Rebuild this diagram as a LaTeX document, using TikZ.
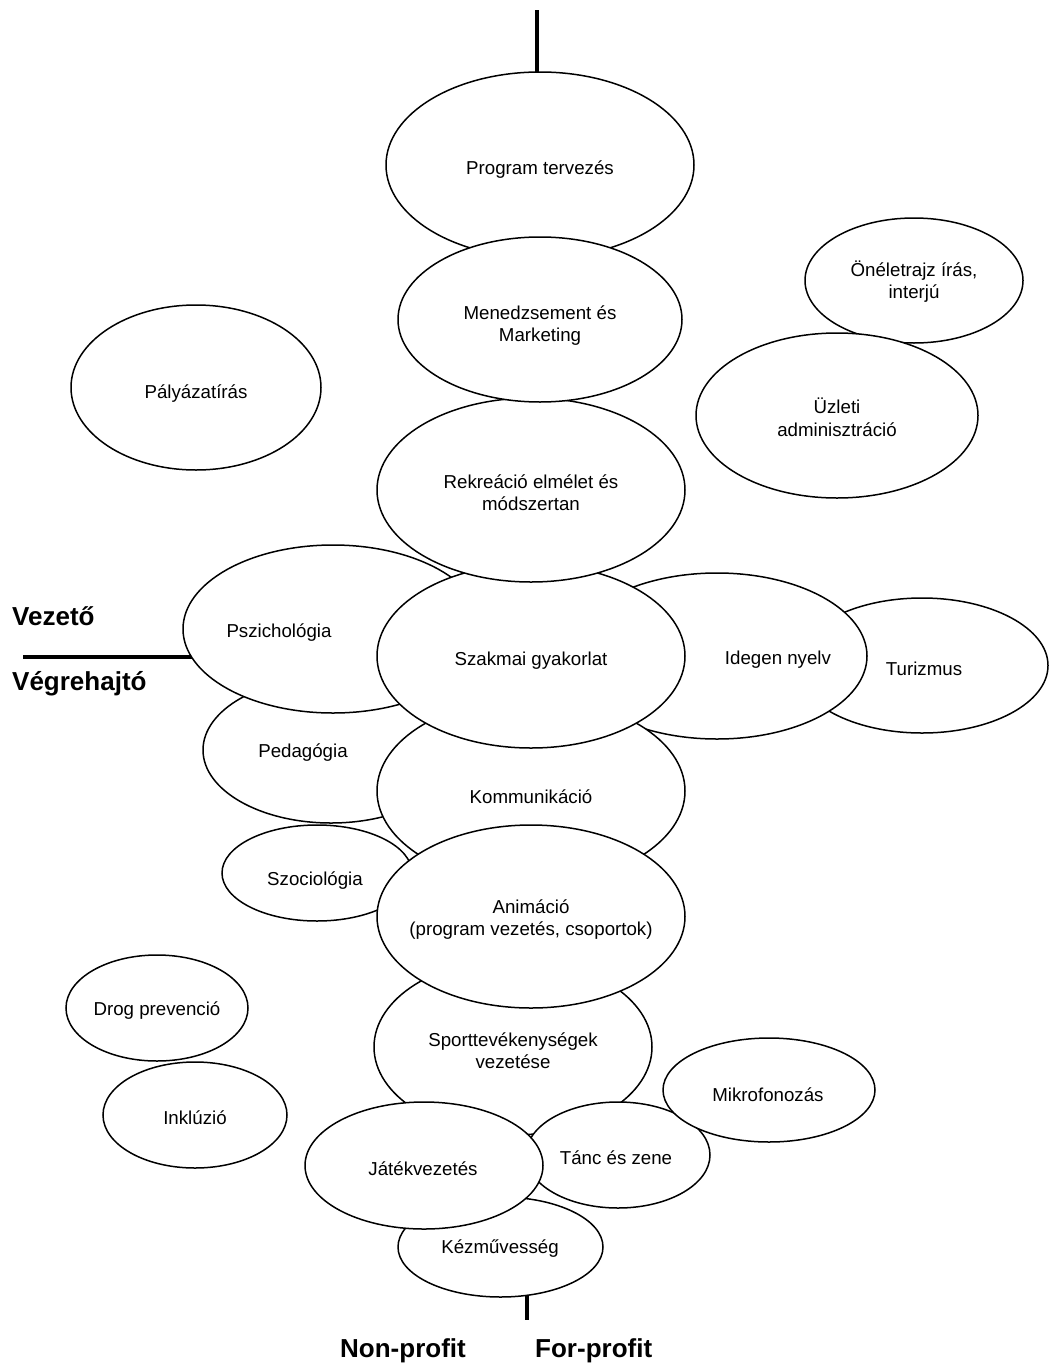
\documentclass[tikz,border=0pt]{standalone}
\usepackage{fontspec}
\setmainfont{Liberation Sans}
\usetikzlibrary{shapes.geometric}
\begin{document}
\begin{tikzpicture}[x=1pt,y=-1pt,
  bub/.style={ellipse, draw=black, fill=white, line width=1.5pt, inner sep=0pt},
  lab/.style={font=\fontsize{18.7}{22.5}\selectfont, align=center, inner sep=0pt, yshift=-1.5pt},
  axisline/.style={line width=3.5pt},
  side/.style={font=\fontsize{26}{30}\selectfont\bfseries, inner sep=0pt}]
\useasboundingbox (0,0) rectangle (1049,1365);
% axis lines (partly hidden under the ellipses)
\coordinate (topA) at (537,10);
\coordinate (topB) at (537,120);
\coordinate (leftA) at (23,657);
\coordinate (leftB) at (260,657);
\coordinate (botA) at (527,1260);
\coordinate (botB) at (527,1320);
\draw[axisline] (topA) -- (topB);
\draw[axisline] (leftA) -- (leftB);
\draw[axisline] (botA) -- (botB);
% side labels
\node[side, anchor=base west] (vez) at (12,625) {Vezető};
\node[side, anchor=base west] (veg) at (12,690) {Végrehajtó};
\node[side, anchor=base west] (np) at (340,1357) {Non-profit};
\node[side, anchor=base west] (fp) at (535,1357) {For-profit};
% free-standing bubbles
\node[bub, minimum width=250pt, minimum height=165pt] (paly) at (196,387.5) {};
\node[lab] (tpaly) at (196,392) {Pályázatírás};
\node[bub, minimum width=218pt, minimum height=125pt] (onel) at (914,280.5) {};
\node[lab] (tonel) at (914,280) {Önéletrajz írás,\\interjú};
\node[bub, minimum width=282pt, minimum height=165pt] (uzl) at (837,415.5) {};
\node[lab] (tuzl) at (837,416) {Üzleti\\adminisztráció};
\node[bub, minimum width=182pt, minimum height=106pt] (drog) at (157,1008) {};
\node[lab] (tdrog) at (157,1009) {Drog prevenció};
\node[bub, minimum width=184pt, minimum height=106pt] (inkl) at (195,1115) {};
\node[lab] (tinkl) at (195,1116) {Inklúzió};
% central cluster
\node[bub, minimum width=256pt, minimum height=146pt] (ped) at (331,750) {};
\node[lab] (tped) at (303,751) {Pedagógia};
\node[bub, minimum width=300pt, minimum height=168pt] (psz) at (333,629) {};
\node[lab] (tpsz) at (279,631) {Pszichológia};
\node[bub, minimum width=252pt, minimum height=135pt] (tur) at (922,665.5) {};
\node[lab] (ttur) at (924,667) {Turizmus};
\node[bub, minimum width=300pt, minimum height=166pt] (ideg) at (717,656) {};
\node[lab] (tideg) at (778,658) {Idegen nyelv};
\node[bub, minimum width=190pt, minimum height=96pt] (szoc) at (317,873) {};
\node[lab] (tszoc) at (315,879) {Szociológia};
\node[bub, minimum width=308pt, minimum height=186pt] (komm) at (531,791) {};
\node[lab] (tkomm) at (531,795) {Kommunikáció};
\node[bub, minimum width=308pt, minimum height=184pt] (szak) at (531,656) {};
\node[lab] (tszak) at (531,659) {Szakmai gyakorlat};
\node[bub, minimum width=308pt, minimum height=184pt] (rekr) at (531,490) {};
\node[lab] (trekr) at (531,491) {Rekreáció elmélet és\\módszertan};
\node[bub, minimum width=308pt, minimum height=186pt] (prog) at (540,165) {};
\node[lab] (tprog) at (540,168) {Program tervezés};
\node[bub, minimum width=284pt, minimum height=165pt] (men) at (540,319.5) {};
\node[lab] (tmen) at (540,324) {Menedzsement és\\Marketing};
\node[bub, minimum width=278pt, minimum height=176pt] (sport) at (513,1047) {};
\node[lab] (tsport) at (513,1049) {Sporttevékenységek\\vezetése};
\node[bub, minimum width=308pt, minimum height=183pt] (anim) at (531,916.5) {};
\node[lab] (tanim) at (531,918) {Animáció\\(program vezetés, csoportok)};
\node[bub, minimum width=184pt, minimum height=106pt] (tanc) at (618,1155) {};
\node[lab] (ttanc) at (616,1156) {Tánc és zene};
\node[bub, minimum width=212pt, minimum height=104pt] (mikr) at (769,1090) {};
\node[lab] (tmikr) at (768,1093) {Mikrofonozás};
\node[bub, minimum width=205pt, minimum height=100pt] (kez) at (500.5,1247) {};
\node[lab] (tkez) at (500,1247) {Kézművesség};
\node[bub, minimum width=238pt, minimum height=127pt] (jat) at (424,1165.5) {};
\node[lab] (tjat) at (423,1167) {Játékvezetés};
\end{tikzpicture}
\end{document}
